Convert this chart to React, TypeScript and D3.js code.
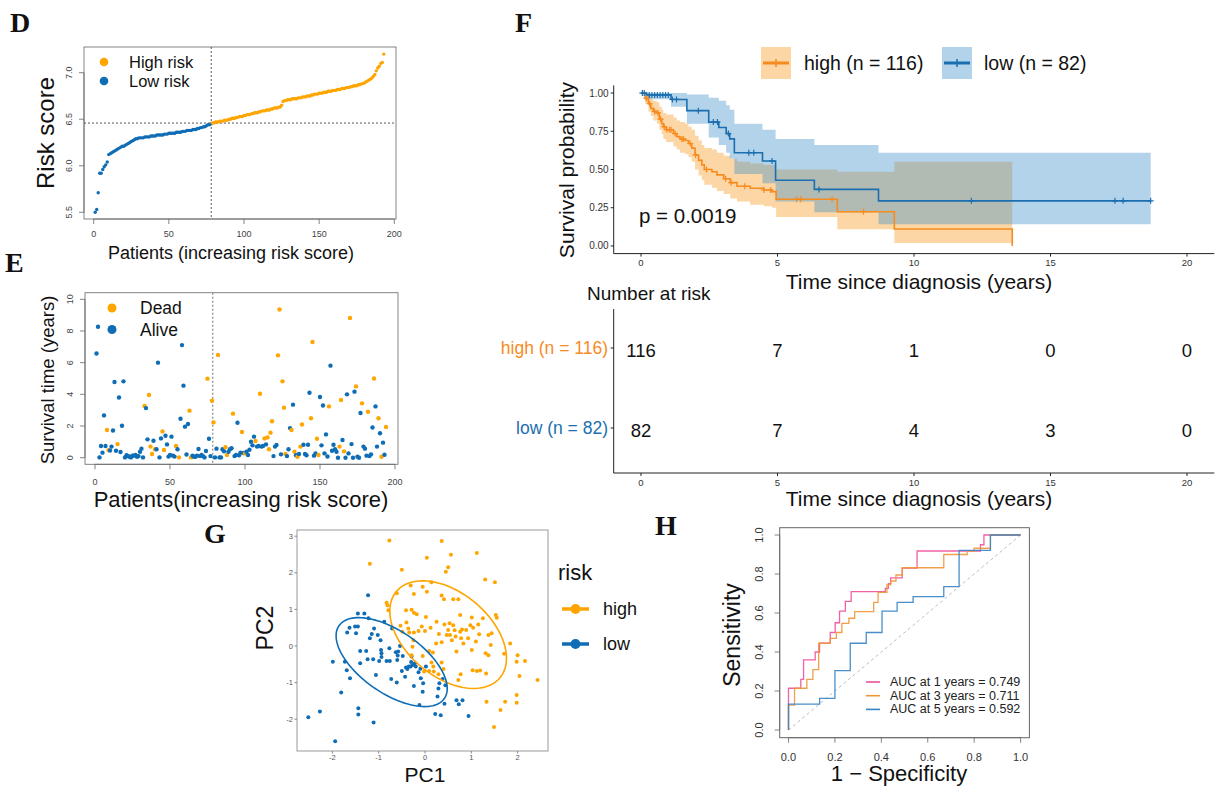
import React from "react";
import * as d3 from "d3";

// ---------------- Panel D : risk score ----------------
const riskLow = [5.50,5.53,5.71,5.92,5.92,5.96,5.99,6.01,6.04,6.12,6.13,6.14,6.15,6.16,6.17,6.18,6.19,6.20,6.21,6.21,6.22,6.23,6.24,6.25,6.26,6.27,6.28,6.29,6.29,6.30,6.30,6.30,6.30,6.31,6.31,6.31,6.31,6.32,6.32,6.32,6.32,6.33,6.33,6.33,6.33,6.33,6.34,6.34,6.34,6.35,6.35,6.35,6.35,6.35,6.36,6.36,6.36,6.36,6.37,6.37,6.37,6.38,6.38,6.38,6.38,6.39,6.39,6.39,6.40,6.40,6.41,6.41,6.42,6.42,6.43,6.44,6.44,6.45];
const riskHigh = [6.46,6.46,6.47,6.47,6.47,6.48,6.48,6.48,6.49,6.49,6.49,6.50,
6.50,6.51,6.51,6.51,6.52,6.52,6.53,6.53,6.53,6.54,
6.54,6.55,6.55,6.55,6.56,6.56,6.57,6.57,6.57,6.58,
6.58,6.59,6.59,6.59,6.60,6.60,6.60,6.61,6.61,6.62,
6.62,6.62,6.63,6.63,6.65,6.69,
6.70,6.70,6.71,6.71,6.71,6.72,6.72,6.72,6.72,6.73,6.73,6.73,6.74,6.74,
6.74,6.75,6.75,6.75,6.76,6.76,6.77,6.77,6.77,6.78,
6.78,6.78,6.79,6.79,6.79,6.80,6.80,6.80,6.81,6.81,
6.81,6.82,6.82,6.82,6.83,6.83,6.83,6.84,6.84,6.84,
6.85,6.85,6.86,6.86,6.86,6.87,6.87,6.88,6.88,6.89,
6.90,6.91,6.92,6.93,6.94,6.96,6.98,
7.02,7.05,7.07,7.10,7.11,7.20];
const riskCutoffScore = 6.459;
const riskCutoffPatient = 78.2;
const riskXTicks = [0, 50, 100, 150, 200];
const riskYTicks = [5.5, 6.0, 6.5, 7.0];

// ---------------- Panel E : survival time ----------------
const eYears = [6.58,8.27,0.02,0.74,0.32,2.67,0.74,1.75,0.48,0.45,
0.70,1.72,4.78,0.44,0.86,3.80,0.36,2.02,4.82,0.02,
0.15,0.10,0.06,0.02,0.13,0.13,0.17,0.06,0.10,0.38,
0.57,0.02,3.26,3.13,1.16,3.96,0.70,0.23,1.07,0.53,
0.53,6.00,0.02,1.22,1.66,0.49,1.39,0.84,0.07,0.17,
1.33,0.13,0.07,0.74,0.53,0.02,2.46,7.11,4.55,1.96,
0.20,2.13,2.97,0.02,0.13,0.06,0.06,0.13,0.55,0.10,
0.17,0.10,0.02,0.42,4.99,1.20,0.10,3.60,2.23,0.02,
0.57,6.48,0.02,0.02,0.53,0.40,0.66,0.17,0.38,0.53,
0.60,2.78,0.10,0.17,2.21,0.15,0.32,1.62,0.30,0.27,
0.38,0.17,0.50,1.01,0.78,1.33,1.05,0.70,0.74,4.04,
0.70,0.74,1.22,0.84,1.28,0.53,1.58,2.30,0.10,0.70,
0.80,6.46,9.36,0.21,4.82,3.16,0.23,0.10,0.53,1.87,
1.75,3.35,0.38,0.15,0.06,0.23,0.70,2.10,0.82,0.23,
0.15,0.82,4.10,2.49,7.30,0.13,0.27,1.20,0.17,3.83,
0.78,3.30,0.27,1.47,0.08,3.24,5.81,0.44,0.82,0.53,
0.38,0.00,0.70,3.64,1.12,0.40,0.00,4.00,0.27,8.82,
0.86,0.00,4.17,4.50,0.06,0.00,2.82,3.43,0.70,0.57,
0.13,2.90,0.10,0.21,1.91,5.00,3.24,0.70,2.49,1.54,
0.06,0.95,0.19,1.94];
const eDead = [0,0,0,0,0,0,0,1,1,0,
0,0,0,0,1,0,0,0,0,0,
0,0,0,0,0,0,0,0,0,0,
0,0,1,0,0,1,1,1,0,1,
0,0,0,0,1,1,0,0,0,0,
0,0,0,1,0,1,0,0,0,0,
0,0,1,1,0,0,0,0,0,0,
0,0,0,0,1,0,0,1,1,0,
0,1,0,0,0,0,1,1,0,0,
0,1,0,0,0,0,0,1,0,1,
0,0,0,0,0,0,1,0,0,1,
0,0,1,0,1,1,1,1,0,0,
0,1,1,0,1,1,1,0,0,0,
1,0,1,0,1,0,1,1,0,0,
0,0,0,1,1,0,0,1,1,0,
0,0,0,0,0,1,0,0,0,0,
0,0,1,1,0,1,0,0,0,1,
0,0,0,1,0,0,0,1,0,0,
0,1,0,0,0,1,0,0,1,0,
1,0,0,1];
const eSplitPatient = 78.5;
const eYTicks = [0, 2, 4, 6, 8, 10];

// ---------------- Panel F : Kaplan-Meier ----------------
const kmHighTime = [0,0.15,0.27,0.36,0.45,0.58,0.67,0.76,0.82,0.92,1.19,1.31,1.43,1.62,1.74,1.86,1.98,2.11,2.23,2.32,2.6,2.78,3.03,3.27,3.52,4.0,4.5,4.8,4.95,7.19,9.28];
const kmHighSurv = [1,0.965,0.93,0.90,0.88,0.87,0.83,0.80,0.78,0.76,0.735,0.715,0.70,0.69,0.67,0.64,0.595,0.56,0.53,0.50,0.485,0.465,0.44,0.414,0.39,0.377,0.366,0.355,0.305,0.224,0.111];
const kmHighLower = [1,0.93,0.88,0.85,0.82,0.80,0.76,0.73,0.70,0.68,0.65,0.63,0.61,0.60,0.58,0.55,0.50,0.46,0.43,0.40,0.38,0.36,0.34,0.31,0.29,0.27,0.26,0.25,0.19,0.109,0.02];
const kmHighUpper = [1,1,0.98,0.96,0.95,0.94,0.91,0.89,0.87,0.86,0.84,0.82,0.81,0.80,0.78,0.76,0.72,0.69,0.66,0.64,0.63,0.61,0.59,0.57,0.55,0.54,0.53,0.53,0.50,0.486,0.55];
const kmHighEnd = 13.6;
const kmHighCensor = [0.2,0.32,0.5,0.62,0.72,0.85,0.95,1.05,1.1,1.25,1.5,1.55,1.8,2.0,2.4,3.1,3.3,3.8,4.5,4.75,5.7,5.85,7.0,8.15];

const kmLowTime = [0,0.2,1.1,1.68,2.48,2.85,3.12,3.25,3.42,4.45,4.93,6.35,8.7];
const kmLowSurv = [1,0.988,0.958,0.885,0.81,0.775,0.735,0.70,0.61,0.556,0.43,0.37,0.295];
const kmLowLower = [1,0.96,0.91,0.80,0.71,0.66,0.61,0.57,0.47,0.41,0.29,0.22,0.142];
const kmLowUpper = [1,1,1,0.99,0.97,0.95,0.92,0.89,0.80,0.76,0.70,0.66,0.61];
const kmLowEnd = 18.67;
const kmLowCensor = [0.05,0.12,0.3,0.4,0.5,0.6,0.7,0.8,0.9,1.0,1.15,1.3,2.1,2.65,2.8,3.2,3.95,4.13,4.8,6.52,12.1,17.36,17.66,18.67];

const kmTimeTicks = [0, 5, 10, 15, 20];
const kmSurvTicks = [0, 0.25, 0.5, 0.75, 1];
const riskTableHigh = [116, 7, 1, 0, 0];
const riskTableLow = [82, 7, 4, 3, 0];
const pValueLabel = "p = 0.0019";

// ---------------- Panel G : PCA ----------------
const pcaHigh = [[-0.77,2.88],[-1.19,2.25],[-0.50,2.08],[0.04,2.41],[0.36,2.87],[0.56,2.49],[0.50,2.15],[0.45,2.03],[1.12,2.54],[1.30,1.82],[1.51,1.74],[-0.31,1.65],[-0.61,1.44],[-0.05,1.62],[0.14,1.74],[0.04,1.48],[-0.24,1.42],[0.36,1.38],[-0.83,1.18],[-0.81,1.11],[-0.79,0.98],[-0.41,0.98],[-0.29,0.99],[-0.24,0.91],[-0.18,0.87],[0.02,0.79],[0.41,1.28],[0.61,1.28],[0.72,1.28],[0.76,0.85],[1.01,0.78],[1.25,0.76],[1.53,0.85],[1.55,0.77],[-0.40,0.64],[-0.53,0.55],[-0.49,0.39],[-0.36,0.48],[-0.34,0.37],[-0.24,0.37],[-0.14,0.41],[-0.07,0.53],[0.00,0.41],[0.12,0.50],[0.25,0.66],[0.42,0.59],[0.53,0.62],[0.61,0.57],[0.47,0.30],[0.50,0.44],[0.54,0.30],[0.58,0.16],[0.66,0.26],[0.76,0.39],[0.78,0.21],[0.89,0.44],[0.98,0.57],[1.04,0.50],[1.15,0.59],[1.17,0.32],[1.37,0.30],[1.44,0.35],[1.42,0.03],[1.31,-0.20],[1.37,-0.25],[1.71,-0.21],[1.84,0.07],[1.01,-0.11],[0.83,0.07],[0.68,-0.15],[0.24,0.07],[0.36,0.10],[0.09,-0.14],[0.17,-0.18],[-0.05,-0.27],[-0.27,-0.02],[-0.25,0.16],[0.14,-0.45],[0.18,-0.56],[0.19,-0.70],[0.29,-0.77],[0.36,-0.45],[0.40,-0.63],[-0.02,-0.70],[0.09,-0.68],[0.72,-0.93],[0.77,-0.77],[1.03,-0.66],[1.12,-0.68],[1.19,-0.67],[1.32,-0.75],[1.98,-0.43],[2.00,-0.25],[2.16,-0.41],[2.04,-0.82],[2.43,-0.93],[1.33,-1.52],[1.73,-1.52],[1.63,-1.75],[1.98,-1.34],[1.98,-1.55],[1.49,-2.21],[-0.29,-0.25],[0.80,0.45],[0.93,0.21],[0.64,0.43],[1.10,0.12],[0.30,0.33]];
const pcaLow = [[-2.52,-1.95],[-2.27,-1.79],[-1.99,-0.43],[-1.94,-2.60],[-1.81,-1.27],[-1.73,-0.43],[-1.69,-0.66],[-1.68,0.37],[-1.63,0.50],[-1.62,-0.88],[-1.51,0.53],[-1.49,0.35],[-1.45,0.89],[-1.44,-1.70],[-1.44,-1.87],[-1.45,0.53],[-1.40,-0.14],[-1.40,-0.47],[-1.31,0.89],[-1.27,-0.14],[-1.24,-0.36],[-1.22,0.76],[-1.23,1.39],[-1.19,0.21],[-1.15,0.33],[-1.12,-0.36],[-1.10,0.48],[-1.11,-2.09],[-1.06,-0.79],[-1.02,0.30],[-0.99,-0.41],[-0.96,0.16],[-0.95,-0.11],[-0.94,-0.20],[-0.94,-0.30],[-0.88,0.66],[-0.83,-0.41],[-0.77,-0.06],[-0.76,-0.41],[-0.73,-0.90],[-0.71,0.48],[-0.63,-0.17],[-0.61,-1.00],[-0.60,-0.38],[-0.59,-0.26],[-0.58,-0.15],[-0.54,0.00],[-0.50,-0.68],[-0.43,-0.84],[-0.41,-0.59],[-0.38,-0.63],[-0.35,-0.56],[-0.31,-0.56],[-0.29,-0.29],[-0.27,-0.52],[-0.24,-1.09],[-0.20,-0.56],[-0.14,-0.72],[-0.12,-1.61],[-0.09,-0.88],[-0.05,-1.25],[-0.04,-1.02],[0.02,-0.56],[0.22,-1.86],[0.27,-1.38],[0.29,-1.16],[0.31,-1.02],[0.34,-1.89],[0.38,-0.90],[0.42,-1.58],[0.44,-1.07],[0.68,-1.48],[0.73,-1.59],[0.81,-1.48],[0.94,-1.91],[-0.48,-0.27],[-0.22,-0.47],[-0.10,-0.62],[-0.30,-0.44]];
// ellipse: centre x, centre y, then Cholesky factor (a11, a21, a22) of the shape matrix
const ellipseHigh = [0.50, 0.31, 1.26, -0.643, 1.322];
const ellipseLow = [-0.72, -0.44, 1.2, -0.72, 0.979];
const pcaXTicks = [-2, -1, 0, 1, 2];
const pcaYTicks = [-2, -1, 0, 1, 2, 3];

// ---------------- Panel H : time-dependent ROC ----------------
const roc1Fpr = [0,0,0.053,0.065,0.115,0.134,0.18,0.201,0.22,0.245,0.27,0.417,0.43,0.44,0.49,0.554,0.827,0.842,1];
const roc1Tpr = [0,0.214,0.26,0.36,0.40,0.445,0.50,0.55,0.61,0.66,0.71,0.726,0.75,0.78,0.83,0.918,0.95,1.0,1.0];
const roc3Fpr = [0,0,0.026,0.079,0.105,0.13,0.18,0.206,0.23,0.26,0.285,0.367,0.386,0.424,0.44,0.463,0.49,0.669,0.77,0.80,0.87,1];
const roc3Tpr = [0,0.128,0.214,0.26,0.31,0.445,0.47,0.50,0.547,0.573,0.607,0.655,0.706,0.744,0.764,0.795,0.832,0.90,0.918,0.932,1.0,1.0];
const roc5Fpr = [0,0,0.134,0.2,0.266,0.335,0.403,0.468,0.537,0.669,0.735,0.87,1];
const roc5Tpr = [0,0.133,0.162,0.304,0.445,0.50,0.61,0.655,0.684,0.735,0.921,1.0,1.0];
const rocLabels = ["AUC at 1 years = 0.749", "AUC at 3 years = 0.711", "AUC at 5 years = 0.592"];
const rocTicks = [0, 0.2, 0.4, 0.6, 0.8, 1.0];

// ---------------- styles ----------------
const SANS = "'Liberation Sans', Arial, Helvetica, sans-serif";
const SERIF = "'Liberation Serif', 'Times New Roman', serif";
const C_OR = "#FFA500";
const C_BL = "#0F6DB6";
const KM_OR = "#F68B1F";
const KM_BL = "#1B6FB0";
const BAND_OR = "#F7981B";
const BAND_BL = "#4191CA";
const ROC_COLS = ["#F0509A", "#EE9636", "#3584C4"];

function stepAt(times: number[], vals: number[], t: number) {
  const i = d3.bisectRight(times, t) - 1;
  return vals[Math.max(0, i)];
}

function RBottom({ scale, ticks, y, fmt, size, labelY, color = "#444", tick = 5 }: any) {
  return (
    <g>
      <line x1={scale(ticks[0])} x2={scale(ticks[ticks.length - 1])} y1={y} y2={y} stroke="#666" strokeWidth={0.8} />
      {ticks.map((t: number) => (
        <g key={t}>
          <line x1={scale(t)} x2={scale(t)} y1={y} y2={y + tick} stroke="#666" strokeWidth={0.8} />
          <text x={scale(t)} y={labelY} textAnchor="middle" dominantBaseline="central" fontSize={size} fill={color}>{fmt(t)}</text>
        </g>
      ))}
    </g>
  );
}

function RLeft({ scale, ticks, x, fmt, size, labelX, color = "#444", tick = 5 }: any) {
  return (
    <g>
      <line y1={scale(ticks[0])} y2={scale(ticks[ticks.length - 1])} x1={x} x2={x} stroke="#666" strokeWidth={0.8} />
      {ticks.map((t: number) => (
        <g key={t}>
          <line y1={scale(t)} y2={scale(t)} x1={x} x2={x - tick} stroke="#666" strokeWidth={0.8} />
          <text transform={`translate(${labelX},${scale(t)}) rotate(-90)`} textAnchor="middle" dominantBaseline="central" fontSize={size} fill={color}>{fmt(t)}</text>
        </g>
      ))}
    </g>
  );
}

function PanelLabel({ x, y, t }: any) {
  return <text x={x} y={y} fontFamily={SERIF} fontWeight="bold" fontSize={28} fill="#111">{t}</text>;
}

export default function App() {
  // ---------- D ----------
  const dx = d3.scaleLinear().domain([0, 200]).range([93.7, 394.3]);
  const dy = d3.scaleLinear().domain([5.5, 7.0]).range([212.3, 72.7]);
  const dBox = [84, 47, 396, 219];

  // ---------- E ----------
  const ex = d3.scaleLinear().domain([0, 200]).range([95, 395]);
  const ey = d3.scaleLinear().domain([0, 10]).range([457.7, 299.3]);
  const eBox = [85, 292.7, 398, 464.3];

  // ---------- F ----------
  const fx = d3.scaleLinear().domain([-1, 21]).range([613.7, 1214.3]);
  const fy = d3.scaleLinear().domain([-0.05, 1.05]).range([253.6, 85.4]);
  const mk = (T: number[], S: number[], L: number[], U: number[]) =>
    T.map((t, i) => ({ t, s: S[i], lo: L[i], hi: U[i] }));
  const highSteps = mk(kmHighTime, kmHighSurv, kmHighLower, kmHighUpper);
  const lowSteps = mk(kmLowTime, kmLowSurv, kmLowLower, kmLowUpper);
  const highBand = [...highSteps, { ...highSteps[highSteps.length - 1], t: kmHighEnd }];
  const lowBand = [...lowSteps, { ...lowSteps[lowSteps.length - 1], t: kmLowEnd }];
  const highLine = [...highSteps, { t: kmHighEnd, s: 0, lo: 0, hi: 0 }];
  const lowLine = lowBand;
  const area = d3.area<any>().curve(d3.curveStepAfter).x((d) => fx(d.t)).y0((d) => fy(d.lo)).y1((d) => fy(d.hi));
  const kmLine = d3.line<any>().curve(d3.curveStepAfter).x((d) => fx(d.t)).y((d) => fy(d.s));
  const plus = (x: number, y: number, s = 3.5) => `M${x - s},${y}H${x + s}M${x},${y - s}V${y + s}`;

  const tblY = d3.scalePoint<string>().domain(["low", "high"]).range([428, 348]);

  // ---------- G ----------
  const gx = d3.scaleLinear().domain([0, 1]).range([425, 471.3]);
  const gy = d3.scaleLinear().domain([0, 1]).range([646, 609.4]);
  const gBox = [297, 530, 548, 751];
  const ellipsePath = (p: number[]) => {
    const pts = d3.range(0, 121).map((i) => {
      const a = (i / 120) * Math.PI * 2;
      return [p[0] + p[2] * Math.cos(a), p[1] + p[3] * Math.cos(a) + p[4] * Math.sin(a)];
    });
    return d3.line<number[]>().x((d) => gx(d[0])).y((d) => gy(d[1]))(pts) as string;
  };

  // ---------- H ----------
  const hx = d3.scaleLinear().domain([0, 1]).range([788.5, 1020.6]);
  const hy = d3.scaleLinear().domain([0, 1]).range([730, 535]);
  const hBox = [779.7, 527.7, 1029.4, 737.7];
  const rocLine = d3.line<number[]>().curve(d3.curveStepAfter).x((d) => hx(d[0])).y((d) => hy(d[1]));
  const rocs = [
    d3.zip(roc1Fpr, roc1Tpr),
    d3.zip(roc3Fpr, roc3Tpr),
    d3.zip(roc5Fpr, roc5Tpr),
  ];

  const f1 = d3.format(".1f");
  const f2 = d3.format(".2f");
  const fint = d3.format("d");
  const fneg = (v: number) => (v < 0 ? "-" + Math.abs(v) : String(v));

  return (
    <svg width={1215} height={787} style={{ position: "absolute", left: 0, top: 0, background: "#fff" }} fontFamily={SANS}>
      <rect width={1215} height={787} fill="#fff" />

      {/* ================= D ================= */}
      <PanelLabel x={10} y={32} t="D" />
      <rect x={dBox[0]} y={dBox[1]} width={dBox[2] - dBox[0]} height={dBox[3] - dBox[1]} fill="none" stroke="#777" strokeWidth={0.9} />
      <line x1={dBox[0]} x2={dBox[2]} y1={dy(riskCutoffScore)} y2={dy(riskCutoffScore)} stroke="#444" strokeDasharray="2,2" strokeWidth={0.9} />
      <line x1={dx(riskCutoffPatient)} x2={dx(riskCutoffPatient)} y1={dBox[1]} y2={dBox[3]} stroke="#444" strokeDasharray="2,2" strokeWidth={0.9} />
      {riskLow.map((v, i) => (
        <circle key={"dl" + i} cx={dx(i + 1)} cy={dy(v)} r={1.7} fill={C_BL} />
      ))}
      {riskHigh.map((v, i) => (
        <circle key={"dh" + i} cx={dx(riskLow.length + i + 1)} cy={dy(v)} r={1.7} fill={C_OR} />
      ))}
      <RBottom scale={dx} ticks={riskXTicks} y={dBox[3]} fmt={fint} size={9} labelY={234} />
      <RLeft scale={dy} ticks={riskYTicks} x={dBox[0]} fmt={f1} size={9} labelX={69} />
      <text transform="translate(45,133) rotate(-90)" textAnchor="middle" dominantBaseline="central" fontSize={24} fill="#111">Risk score</text>
      <text x={231} y={259} textAnchor="middle" fontSize={18} fill="#111">Patients (increasing risk score)</text>
      <circle cx={104} cy={62} r={4.3} fill={C_OR} />
      <text x={129} y={62} dominantBaseline="central" fontSize={16.5} fill="#111">High risk</text>
      <circle cx={104} cy={81} r={4.3} fill={C_BL} />
      <text x={129} y={81} dominantBaseline="central" fontSize={16.5} fill="#111">Low risk</text>

      {/* ================= E ================= */}
      <PanelLabel x={5} y={272} t="E" />
      <rect x={eBox[0]} y={eBox[1]} width={eBox[2] - eBox[0]} height={eBox[3] - eBox[1]} fill="none" stroke="#777" strokeWidth={0.9} />
      <line x1={ex(eSplitPatient)} x2={ex(eSplitPatient)} y1={eBox[1]} y2={eBox[3]} stroke="#888" strokeDasharray="2,2" strokeWidth={1.2} />
      {eYears.map((v, i) => (
        <circle key={"e" + i} cx={ex(i + 1)} cy={ey(v)} r={2.2} fill={eDead[i] ? C_OR : C_BL} />
      ))}
      <RBottom scale={ex} ticks={riskXTicks} y={eBox[3]} fmt={fint} size={9} labelY={482} />
      <RLeft scale={ey} ticks={eYTicks} x={eBox[0]} fmt={fint} size={9} labelX={70} />
      <text transform="translate(47,380) rotate(-90)" textAnchor="middle" dominantBaseline="central" fontSize={18.5} fill="#111">Survival time (years)</text>
      <text x={241} y={507} textAnchor="middle" fontSize={22} fill="#111">Patients(increasing risk score)</text>
      <circle cx={112} cy={308} r={4.5} fill={C_OR} />
      <text x={140} y={308} dominantBaseline="central" fontSize={17.5} fill="#111">Dead</text>
      <circle cx={112} cy={329.5} r={4.5} fill={C_BL} />
      <text x={140} y={329.5} dominantBaseline="central" fontSize={17.5} fill="#111">Alive</text>

      {/* ================= F ================= */}
      <PanelLabel x={515} y={32} t="F" />
      {/* legend */}
      <rect x={761} y={47} width={30} height={32} fill={BAND_OR} fillOpacity={0.4} />
      <line x1={763} x2={789} y1={63} y2={63} stroke={KM_OR} strokeWidth={3} />
      <path d={plus(776, 63, 4)} stroke={KM_OR} strokeWidth={1.5} />
      <text x={804} y={63} dominantBaseline="central" fontSize={19.5} fill="#111">high (n = 116)</text>
      <rect x={942} y={47} width={30} height={32} fill={BAND_BL} fillOpacity={0.4} />
      <line x1={944} x2={970} y1={63} y2={63} stroke={KM_BL} strokeWidth={3} />
      <path d={plus(957, 63, 4)} stroke={KM_BL} strokeWidth={1.5} />
      <text x={984} y={63} dominantBaseline="central" fontSize={19.5} fill="#111">low (n = 82)</text>

      <path d={area(highBand) as string} fill={BAND_OR} fillOpacity={0.4} />
      <path d={area(lowBand) as string} fill={BAND_BL} fillOpacity={0.4} />
      <path d={kmLine(highLine) as string} fill="none" stroke={KM_OR} strokeWidth={1.6} />
      <path d={kmLine(lowLine) as string} fill="none" stroke={KM_BL} strokeWidth={1.6} />
      {kmHighCensor.map((t, i) => (
        <path key={"hc" + i} d={plus(fx(t), fy(stepAt(kmHighTime, kmHighSurv, t)), 3)} stroke={KM_OR} strokeWidth={1.2} />
      ))}
      {kmLowCensor.map((t, i) => (
        <path key={"lc" + i} d={plus(fx(t), fy(stepAt(kmLowTime, kmLowSurv, t)), 3)} stroke={KM_BL} strokeWidth={1.2} />
      ))}
      {/* axes */}
      <line x1={fx(-1)} x2={fx(-1)} y1={fy(1.05)} y2={fy(-0.05)} stroke="#222" strokeWidth={1} />
      <line x1={fx(-1)} x2={fx(21)} y1={fy(-0.05)} y2={fy(-0.05)} stroke="#222" strokeWidth={1} />
      {kmSurvTicks.map((v) => (
        <g key={"fy" + v}>
          <line x1={fx(-1) - 3} x2={fx(-1)} y1={fy(v)} y2={fy(v)} stroke="#222" />
          <text x={fx(-1) - 5} y={fy(v)} textAnchor="end" dominantBaseline="central" fontSize={10} fill="#333">{f2(v)}</text>
        </g>
      ))}
      {kmTimeTicks.map((v) => (
        <g key={"fx" + v}>
          <line x1={fx(v)} x2={fx(v)} y1={fy(-0.05)} y2={fy(-0.05) + 3} stroke="#222" />
          <text x={fx(v)} y={fy(-0.05) + 9} textAnchor="middle" dominantBaseline="central" fontSize={9.5} fill="#333">{v}</text>
        </g>
      ))}
      <text transform="translate(566,170) rotate(-90)" textAnchor="middle" dominantBaseline="central" fontSize={21} fill="#111">Survival probability</text>
      <text x={919} y={289} textAnchor="middle" fontSize={21} fill="#111">Time since diagnosis (years)</text>
      <text x={639} y={223} fontSize={20.5} fill="#111">{pValueLabel}</text>

      {/* risk table */}
      <text x={587} y={300} fontSize={19} fill="#111">Number at risk</text>
      <line x1={fx(-1)} x2={fx(-1)} y1={309} y2={473} stroke="#222" strokeWidth={1} />
      <line x1={fx(-1)} x2={fx(21)} y1={473} y2={473} stroke="#222" strokeWidth={1} />
      {[["high", "high (n = 116)", KM_OR, riskTableHigh], ["low", "low (n = 82)", KM_BL, riskTableLow]].map(([k, lab, col, vals]: any) => (
        <g key={k}>
          <line x1={fx(-1) - 3} x2={fx(-1)} y1={tblY(k)} y2={tblY(k)} stroke="#222" />
          <text x={608} y={tblY(k)} textAnchor="end" dominantBaseline="central" fontSize={17.5} fill={col}>{lab}</text>
          {vals.map((n: number, i: number) => (
            <text key={i} x={fx(kmTimeTicks[i])} y={tblY(k)! + 2} textAnchor="middle" dominantBaseline="central" fontSize={18.5} fill="#111">{n}</text>
          ))}
        </g>
      ))}
      {kmTimeTicks.map((v) => (
        <g key={"tx" + v}>
          <line x1={fx(v)} x2={fx(v)} y1={473} y2={476} stroke="#222" />
          <text x={fx(v)} y={482} textAnchor="middle" dominantBaseline="central" fontSize={9.5} fill="#333">{v}</text>
        </g>
      ))}
      <text x={919} y={506} textAnchor="middle" fontSize={21} fill="#111">Time since diagnosis (years)</text>

      {/* ================= G ================= */}
      <PanelLabel x={204} y={543} t="G" />
      <rect x={gBox[0]} y={gBox[1]} width={gBox[2] - gBox[0]} height={gBox[3] - gBox[1]} fill="none" stroke="#999" strokeWidth={1} />
      {pcaLow.map((p, i) => (
        <circle key={"gl" + i} cx={gx(p[0])} cy={gy(p[1])} r={2} fill={C_BL} />
      ))}
      {pcaHigh.map((p, i) => (
        <circle key={"gh" + i} cx={gx(p[0])} cy={gy(p[1])} r={2} fill={C_OR} />
      ))}
      <path d={ellipsePath(ellipseHigh)} fill="none" stroke={C_OR} strokeWidth={1.6} />
      <path d={ellipsePath(ellipseLow)} fill="none" stroke={C_BL} strokeWidth={1.6} />
      {pcaXTicks.map((v) => (
        <g key={"gx" + v}>
          <line x1={gx(v)} x2={gx(v)} y1={gBox[3]} y2={gBox[3] + 2.5} stroke="#888" />
          <text x={gx(v)} y={gBox[3] + 6} textAnchor="middle" dominantBaseline="central" fontSize={7.5} fill="#555">{fneg(v)}</text>
        </g>
      ))}
      {pcaYTicks.map((v) => (
        <g key={"gy" + v}>
          <line x1={gBox[0] - 2.5} x2={gBox[0]} y1={gy(v)} y2={gy(v)} stroke="#888" />
          <text x={gBox[0] - 4} y={gy(v)} textAnchor="end" dominantBaseline="central" fontSize={7.5} fill="#555">{fneg(v)}</text>
        </g>
      ))}
      <text transform="translate(265,628) rotate(-90)" textAnchor="middle" dominantBaseline="central" fontSize={23} fill="#111">PC2</text>
      <text x={425} y={782} textAnchor="middle" fontSize={21} fill="#111">PC1</text>
      <text x={558} y={580} fontSize={22} fill="#111">risk</text>
      <line x1={562} x2={589} y1={609} y2={609} stroke={C_OR} strokeWidth={3.5} />
      <circle cx={575.5} cy={609} r={5} fill={C_OR} />
      <text x={603} y={609} dominantBaseline="central" fontSize={18} fill="#111">high</text>
      <line x1={562} x2={589} y1={644} y2={644} stroke={C_BL} strokeWidth={3.5} />
      <circle cx={575.5} cy={644} r={5} fill={C_BL} />
      <text x={603} y={644} dominantBaseline="central" fontSize={18} fill="#111">low</text>

      {/* ================= H ================= */}
      <PanelLabel x={655} y={535} t="H" />
      <rect x={hBox[0]} y={hBox[1]} width={hBox[2] - hBox[0]} height={hBox[3] - hBox[1]} fill="none" stroke="#666" strokeWidth={1} />
      <line x1={hx(0)} y1={hy(0)} x2={hx(1)} y2={hy(1)} stroke="#bbb" strokeDasharray="3,3" strokeWidth={1} />
      {rocs.map((r, i) => (
        <path key={"roc" + i} d={rocLine(r) as string} fill="none" stroke={ROC_COLS[i]} strokeWidth={1.3} strokeOpacity={0.9} />
      ))}
      <RBottom scale={hx} ticks={rocTicks} y={hBox[3]} fmt={f1} size={11} labelY={757} color="#333" />
      <RLeft scale={hy} ticks={rocTicks} x={hBox[0]} fmt={f1} size={11} labelX={759} color="#333" />
      <text transform="translate(732,635) rotate(-90)" textAnchor="middle" dominantBaseline="central" fontSize={23} fill="#111">Sensitivity</text>
      <text x={899} y={781} textAnchor="middle" fontSize={22} fill="#111">1 − Specificity</text>
      {rocLabels.map((lab, i) => (
        <g key={"rl" + i}>
          <line x1={866} x2={880} y1={682 + i * 13.7} y2={682 + i * 13.7} stroke={ROC_COLS[i]} strokeWidth={1.6} />
          <text x={890} y={682 + i * 13.7} dominantBaseline="central" fontSize={12.5} fill="#222">{lab}</text>
        </g>
      ))}
    </svg>
  );
}
